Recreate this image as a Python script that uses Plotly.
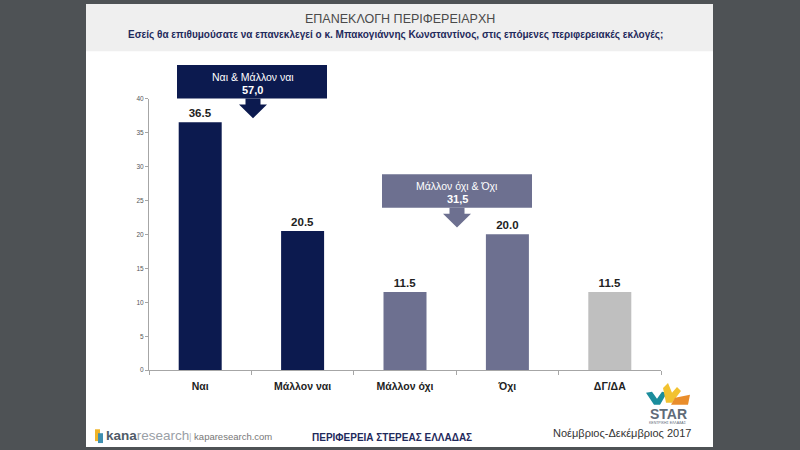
import plotly.graph_objects as go

# data
categories = ["Ναι", "Μάλλον ναι", "Μάλλον όχι", "Όχι", "ΔΓ/ΔΑ"]
values = [36.5, 20.5, 11.5, 20.0, 11.5]
bar_colors = ["#0c1a4f", "#0c1a4f", "#6d7090", "#6d7090", "#bfbfbf"]
group_labels = ["Ναι & Μάλλον ναι", "Μάλλον όχι & Όχι"]
group_totals = ["57,0", "31,5"]
y_ticks = [0, 5, 10, 15, 20, 25, 30, 35, 40]

W, H = 800, 450
FONT = "Liberation Sans, Arial, sans-serif"


def px(x):
    return x / W


def py(y):
    return 1 - y / H


fig = go.Figure()

fig.add_trace(go.Bar(
    x=categories, y=values,
    marker=dict(color=bar_colors, line=dict(width=0)),
    width=0.42,
    text=[f"{v:.1f}" for v in values],
    textposition="outside",
    textfont=dict(family=FONT, size=11.5, color="#222222"),
    texttemplate="<b>%{text}</b>",
    cliponaxis=False,
    showlegend=False,
    hoverinfo="skip",
))

shapes = []
# slide background and header band
shapes.append(dict(type="rect", xref="paper", yref="paper", x0=px(86), x1=px(713), y0=0, y1=1,
                   fillcolor="white", line=dict(width=0), layer="below"))
shapes.append(dict(type="rect", xref="paper", yref="paper", x0=px(86), x1=px(713), y0=py(48), y1=1,
                   fillcolor="#efefef", line=dict(width=0), layer="below"))


def callout(x0, x1, y0, y1, tip_x, color):
    shapes.append(dict(type="rect", xref="paper", yref="paper", x0=px(x0), x1=px(x1),
                       y0=py(y1), y1=py(y0), fillcolor=color, line=dict(width=0)))
    sw, hw = 7.5, 14
    path = (f"M {px(tip_x - sw)},{py(y1)} L {px(tip_x + sw)},{py(y1)} "
            f"L {px(tip_x + sw)},{py(y1 + 6)} L {px(tip_x + hw)},{py(y1 + 6)} "
            f"L {px(tip_x)},{py(y1 + 20)} L {px(tip_x - hw)},{py(y1 + 6)} "
            f"L {px(tip_x - sw)},{py(y1 + 6)} Z")
    shapes.append(dict(type="path", xref="paper", yref="paper", path=path,
                       fillcolor=color, line=dict(width=0)))


callout(177, 327, 62, 96, 253, "#0c1a4f")
callout(382, 532, 173, 207, 457, "#6d7090")

# STAR logo chevrons
logo = [
    ("#1b8d9c", [(646, 395), (652, 394), (657, 401), (662, 394), (667, 395), (660, 407), (654, 407)]),
    ("#f2c230", [(663, 390), (668, 385), (672, 395), (677, 389), (681, 393), (672, 405), (666, 405)]),
    ("#e98d2b", [(675, 400), (690, 397), (688, 407), (671, 407)]),
]
for col, pts in logo:
    path = "M " + " L ".join(f"{px(x)},{py(y)}" for x, y in pts) + " Z"
    shapes.append(dict(type="path", xref="paper", yref="paper", path=path,
                       fillcolor=col, line=dict(width=0)))

# kana icon
shapes.append(dict(type="rect", xref="paper", yref="paper", x0=px(95), x1=px(100), y0=py(444), y1=py(432),
                   fillcolor="#f0b428", line=dict(width=0)))
shapes.append(dict(type="rect", xref="paper", yref="paper", x0=px(98), x1=px(103), y0=py(446), y1=py(436),
                   fillcolor="#3f8fb0", line=dict(width=0)))

annotations = []


def label(x, y, text, size, color, xanchor="center"):
    annotations.append(dict(xref="paper", yref="paper", x=px(x), y=py(y), text=text,
                            showarrow=False, xanchor=xanchor, yanchor="middle",
                            font=dict(family=FONT, size=size, color=color)))


label(400, 15, "ΕΠΑΝΕΚΛΟΓΗ ΠΕΡΙΦΕΡΕΙΑΡΧΗ", 12.5, "#4a4a4a")
label(395, 31, "<b>Εσείς θα επιθυμούσατε να επανεκλεγεί ο κ. Μπακογιάννης Κωνσταντίνος, "
               "στις επόμενες περιφερειακές εκλογές;</b>", 10, "#1f2a5c")

label(253, 74, group_labels[0], 10.5, "white")
label(253, 87, "<b>" + group_totals[0] + "</b>", 11, "white")
label(457, 185, group_labels[1], 10.5, "white")
label(457, 198, "<b>" + group_totals[1] + "</b>", 11, "white")

label(104, 438, "<span style='color:#4f5b68'><b>kana</b></span>"
                "<span style='color:#9aa0a6'>research</span>", 13.5, "#4f5b68", xanchor="left")
label(187, 439, "<span style='color:#bbbbbb'>|</span> kaparesearch.com", 9.5, "#777777", xanchor="left")
label(392, 440, "<b>ΠΕΡΙΦΕΡΕΙΑ ΣΤΕΡΕΑΣ ΕΛΛΑΔΑΣ</b>", 10, "#1f2a5c")
label(693, 436, "Νοέμβριος-Δεκέμβριος 2017", 11, "#333333", xanchor="right")
label(668, 416, "<b>STAR</b>", 14, "#5f6b78")
label(668, 426, "ΚΕΝΤΡΙΚΗΣ ΕΛΛΑΔΑΣ", 3.5, "#5f6b78")

fig.update_layout(
    width=W, height=H,
    margin=dict(l=0, r=0, t=0, b=0),
    paper_bgcolor="#4e5255",
    plot_bgcolor="rgba(0,0,0,0)",
    shapes=shapes,
    annotations=annotations,
    xaxis=dict(
        domain=[px(149), px(661)],
        showline=True, linecolor="#a6a6a6", linewidth=1,
        ticks="outside", tickson="boundaries", ticklen=4, tickcolor="#a6a6a6",
        tickfont=dict(family=FONT, size=10.5, color="#222222"),
        ticklabelstandoff=6,
        tickprefix="<b>", ticksuffix="</b>",
        showgrid=False, zeroline=False,
    ),
    yaxis=dict(
        domain=[py(372), py(96)],
        range=[0, 40], tickvals=y_ticks,
        showline=True, linecolor="#a6a6a6", linewidth=1,
        ticks="outside", ticklen=3, tickcolor="#a6a6a6",
        tickfont=dict(family=FONT, size=6.5, color="#555555"),
        showgrid=False, zeroline=False,
    ),
)

fig.write_html("out.html", config={"displayModeBar": False},
               post_script="document.body.style.margin='0';")
